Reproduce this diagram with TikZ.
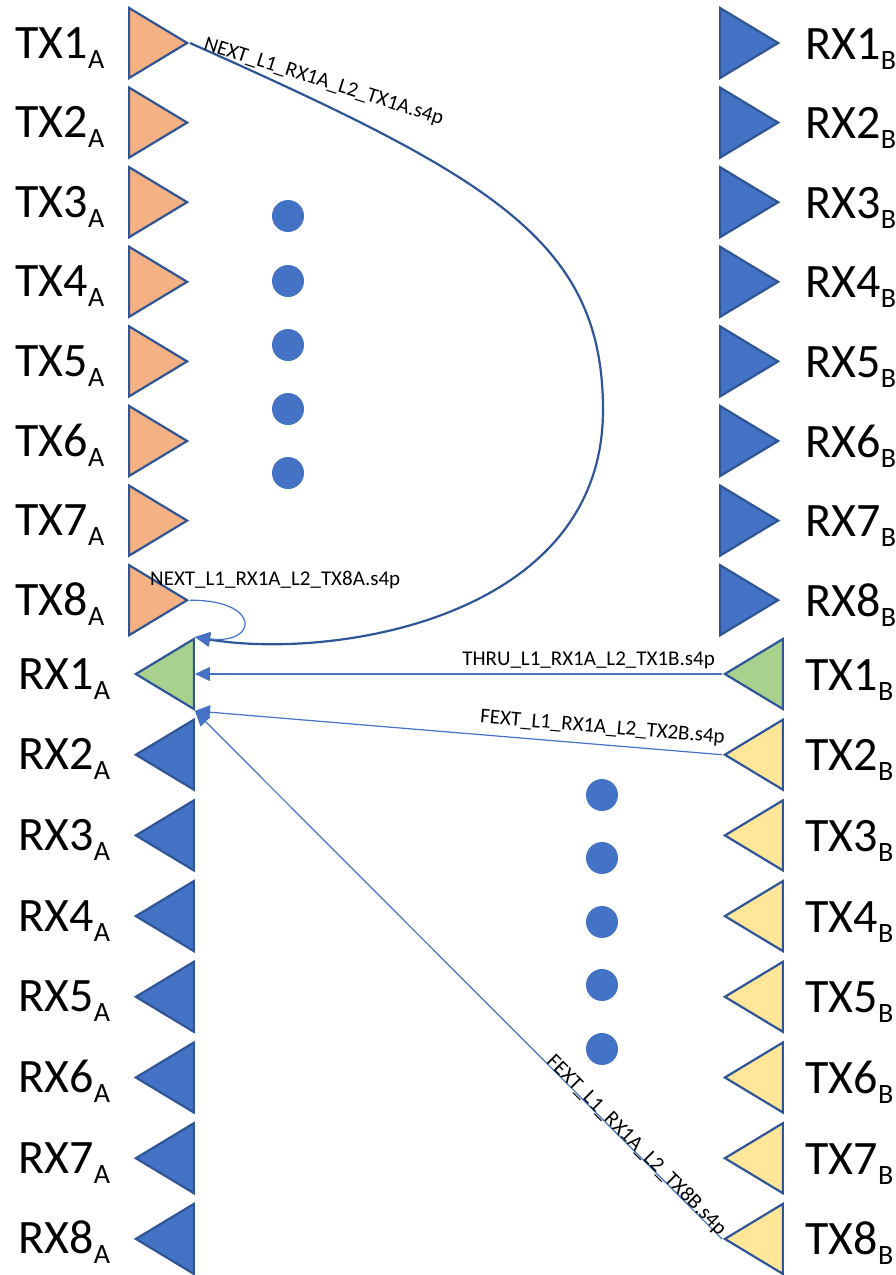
\documentclass[tikz,border=0pt]{standalone}
\usepackage{fontspec}
\setmainfont{Carlito}
\usetikzlibrary{shapes.geometric,arrows.meta,calc}
\definecolor{txcol}{HTML}{F4B183}
\definecolor{rxcol}{HTML}{4472C4}
\definecolor{thrucol}{HTML}{A9D18E}
\definecolor{fextcol}{HTML}{FFE699}
\definecolor{edgecol}{HTML}{2F5597}

% port name with subscript side
\newcommand{\portname}[2]{\fontsize{48}{56}\selectfont #1\raisebox{-10pt}{\fontsize{28}{32}\selectfont #2}}

\begin{document}
\begin{tikzpicture}[
  x=1pt, y=-1pt,
  port/.style={
    isosceles triangle, isosceles triangle stretches,
    minimum width=70pt, minimum height=58pt, inner sep=0pt,
    draw=edgecol, line width=2.2pt, fill=#1,
  },
  portright/.style={port=#1, shape border rotate=0, anchor=apex},
  portleft/.style={port=#1, shape border rotate=180, anchor=apex},
  dot/.style={fill=rxcol},
  tip/.style={-{Triangle[length=15pt, width=14pt]}},
  nextlink/.style={tip, line width=2.2pt, draw=edgecol},
  link/.style={tip, line width=1.2pt, draw=rxcol},
  sparam/.style={font=\fontsize{21}{25}\selectfont, inner sep=0pt},
]
\useasboundingbox (0,0) rectangle (896,1275);

% ============================================================
% SIDE A (left) and SIDE B (right), top half
% ============================================================
\foreach \i in {1,...,8} {
  \pgfmathsetmacro{\ry}{43+79.6*(\i-1)}
  \node[portright=txcol] (txa\i) at (190,\ry) {};
  \node[anchor=base west] (lbltxa\i) at (12,\ry+15) {\portname{TX\i}{A}};
  \node[portright=rxcol] (rxb\i) at (781,\ry) {};
  \node[anchor=base west] (lblrxb\i) at (802,\ry+16) {\portname{RX\i}{B}};
}

% ============================================================
% bottom half
% ============================================================
\foreach \i in {1,...,8} {
  \pgfmathsetmacro{\ry}{674+80.7*(\i-1)}
  \ifnum\i=1 \def\rxfill{thrucol}\def\txfill{thrucol}\else\def\rxfill{rxcol}\def\txfill{fextcol}\fi
  \node[portleft=\rxfill] (rxa\i) at (133,\ry) {};
  \node[anchor=base west] (lblrxa\i) at (15,\ry+15) {\portname{RX\i}{A}};
  \node[portleft=\txfill] (txb\i) at (722,\ry) {};
  \node[anchor=base west] (lbltxb\i) at (802,\ry+16) {\portname{TX\i}{B}};
}

% ellipsis dots
\foreach \y in {216,281,345,409,473}
  \fill[dot] (288,\y) circle[radius=16pt];
\foreach \y in {795,858,922,985,1049}
  \fill[dot] (602,\y) circle[radius=16pt];

% ============================================================
% connectors into RX1 of side A
% ============================================================
\draw[nextlink] (txa1.apex) .. controls (490,177) and (603,240) .. (603,410)
  .. controls (603,620) and (330,660) .. (rxa1.right corner);
\node[sparam, rotate=-17.6, anchor=base] (lblnext1) at (322,87) {NEXT\_L1\_RX1A\_L2\_TX1A.s4p};

\draw[link] (txa8.apex) .. controls (262,600) and (258,645) .. (rxa1.right corner);
\node[sparam, anchor=base west] (lblnext8) at (150,585) {NEXT\_L1\_RX1A\_L2\_TX8A.s4p};

\draw[link] (txb1.apex) -- (rxa1.lower side);
\node[sparam, anchor=base east] (lblthru) at (715,665) {THRU\_L1\_RX1A\_L2\_TX1B.s4p};

\draw[link] (txb2.apex) -- (rxa1.left corner);
\node[sparam, rotate=-4.8, anchor=base] (lblfext2) at (602,733) {FEXT\_L1\_RX1A\_L2\_TX2B.s4p};

\draw[link] (txb8.apex) -- (rxa1.left corner)
  node[sparam, pos=0.17, sloped, anchor=base] (lblfext8) {FEXT\_L1\_RX1A\_L2\_TX8B.s4p};

\end{tikzpicture}
\end{document}
